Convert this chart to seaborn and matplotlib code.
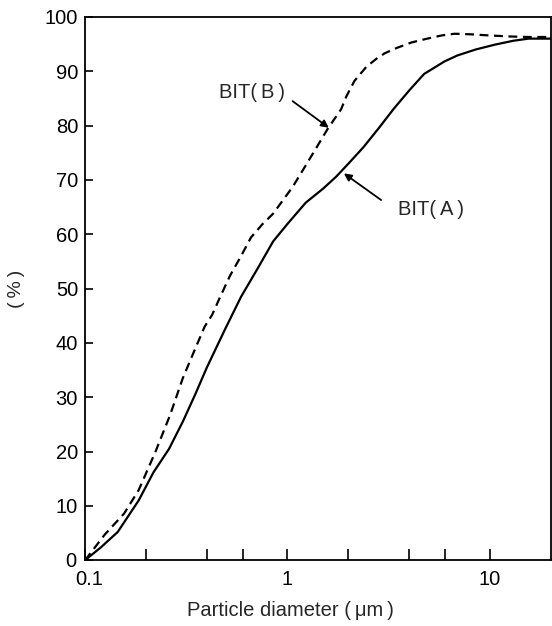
import matplotlib
matplotlib.use("Agg")
import matplotlib.pyplot as plt
import matplotlib.transforms as mtransforms
import pandas as pd
import seaborn as sns

# --------------------- Data ---------------------

# BIT(A): solid curve
a_diam = [0.1, 0.12, 0.145, 0.184, 0.218, 0.26, 0.304, 0.35, 0.40, 0.49, 0.59,
          0.72, 0.85, 1.0, 1.23, 1.5, 1.74, 2.0, 2.37, 2.82, 3.35, 4.0, 4.73,
          5.96, 6.9, 8.5, 10.6, 13, 15.5, 20]
a_pct = [0, 2.4, 5.2, 11, 16.2, 20.5, 25.5, 30.5, 35.5, 42.4, 48.5,
         54, 58.7, 61.9, 65.8, 68.4, 70.6, 73, 76, 79.5, 83.1, 86.5, 89.5,
         91.8, 92.9, 94, 94.9, 95.6, 96, 96]

# BIT(B): dashed curve
b_diam = [0.1, 0.125, 0.156, 0.184, 0.223, 0.263, 0.304, 0.348, 0.39, 0.425,
          0.459, 0.519, 0.59, 0.66, 0.75, 0.85, 1.06, 1.27, 1.58, 1.84, 1.95,
          2.14, 2.45, 2.75, 3.02, 3.47, 4.1, 4.9, 5.8, 6.7, 8.0, 9.8, 12.5,
          15.5, 20]
b_pct = [0, 4.7, 8.6, 12.9, 20, 26.7, 33.5, 38.7, 43, 45.2,
         48, 52.3, 56, 59.4, 61.8, 63.8, 68.7, 73.5, 79.4, 83, 85.3,
         88.2, 90.8, 92.3, 93.3, 94.3, 95.3, 96, 96.6, 96.9, 96.8, 96.6, 96.4,
         96.3, 96.3]

x_major = [0.1, 1, 10]
x_major_labels = ["0.1", "1", "10"]
x_minor = [0.2, 0.4, 0.6, 2, 4, 6]
y_ticks = list(range(0, 101, 10))

df_a = pd.DataFrame({"diam": a_diam, "pct": a_pct})
df_b = pd.DataFrame({"diam": b_diam, "pct": b_pct})

# --------------------- Plot ---------------------

sns.set_style("ticks")
plt.rcParams["font.family"] = ["Liberation Sans", "DejaVu Sans"]

fig = plt.figure(figsize=(5.52, 6.26), dpi=100)
ax = fig.add_axes([0.154, 0.105, 0.844, 0.868])

sns.lineplot(data=df_a, x="diam", y="pct", ax=ax, color="black", lw=1.6,
             sort=False, estimator=None)
sns.lineplot(data=df_b, x="diam", y="pct", ax=ax, color="black", lw=1.6,
             sort=False, estimator=None, linestyle=(0, (4, 2.5)))

ax.set_xscale("log")
ax.set_xlim(0.1, 20)
ax.set_ylim(0, 100)

ax.set_xticks(x_major)
ax.set_xticklabels(x_major_labels)
ax.set_xticks(x_minor, minor=True)
ax.set_xticklabels([], minor=True)
ax.set_yticks(y_ticks)

ax.tick_params(axis="x", which="both", direction="in", length=8, width=1.2,
               labelsize=14.5, pad=7, colors="black")
ax.tick_params(axis="y", which="major", direction="in", length=6, width=1.2,
               labelsize=14.5, pad=5, colors="black")
ax.tick_params(axis="y", which="minor", left=False)

# nudge "0.1" right and "0" up a bit so they sit like the original
lbl = ax.get_xticklabels()[0]
lbl.set_transform(lbl.get_transform() + mtransforms.ScaledTranslation(4 / 100, 0, fig.dpi_scale_trans))
lbl0 = ax.get_yticklabels()[0]
lbl0.set_transform(lbl0.get_transform() + mtransforms.ScaledTranslation(-2 / 100, 1 / 100, fig.dpi_scale_trans))

for s in ax.spines.values():
    s.set_linewidth(1.3)
    s.set_color("black")

ax.set_xlabel("Particle diameter (\u2009\u03bcm\u2009)", fontsize=14.5, labelpad=8)
ax.xaxis.set_label_coords(0.44, -0.075)
ax.set_ylabel("(\u2009%\u2009)", fontsize=14, labelpad=14)

# curve labels with arrows
ax.text(0.67, 86, "BIT(\u2009B\u2009)", fontsize=14.5, ha="center", va="center")
ax.annotate("", xy=(1.6, 79.6), xytext=(1.06, 84.5),
            arrowprops=dict(arrowstyle="-|>", color="black", lw=1.3,
                            mutation_scale=11, shrinkA=0, shrinkB=0))

ax.text(5.1, 64.5, "BIT(\u2009A\u2009)", fontsize=14.5, ha="center", va="center")
ax.annotate("", xy=(1.9, 71.2), xytext=(2.9, 66.3),
            arrowprops=dict(arrowstyle="-|>", color="black", lw=1.3,
                            mutation_scale=11, shrinkA=0, shrinkB=0))

fig.savefig("out.png", dpi=100)
